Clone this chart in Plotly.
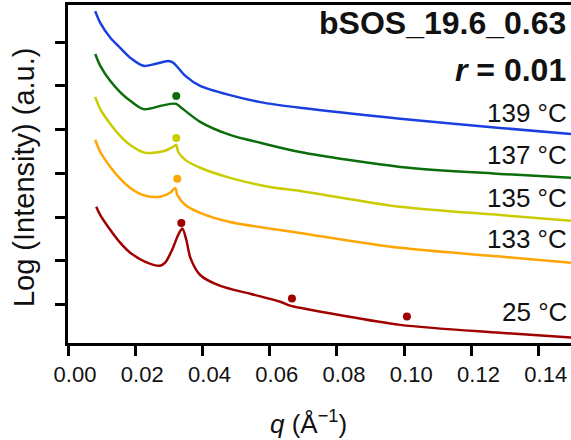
import plotly.graph_objects as go

# ---- data (q in 1/Å, log intensity in arbitrary offset units) ----
q_139 = [0.0081, 0.0096, 0.0126, 0.0155, 0.0189, 0.0224, 0.0259, 0.0298, 0.0313, 0.0349, 0.0393, 0.0482, 0.0572, 0.0690, 0.0988, 0.1285, 0.1496]
i_139 = [7.71, 7.44, 7.10, 6.87, 6.62, 6.46, 6.50, 6.57, 6.53, 6.23, 6.00, 5.79, 5.63, 5.50, 5.25, 5.04, 4.90]

q_137 = [0.0081, 0.0096, 0.0126, 0.0155, 0.0185, 0.0224, 0.0274, 0.0304, 0.0322, 0.0334, 0.0393, 0.0482, 0.0572, 0.0690, 0.0988, 0.1285, 0.1496]
i_137 = [6.73, 6.46, 6.11, 5.86, 5.66, 5.47, 5.54, 5.59, 5.59, 5.52, 5.18, 4.88, 4.70, 4.49, 4.15, 3.99, 3.90]

q_135 = [0.0081, 0.0096, 0.0126, 0.0155, 0.0185, 0.0230, 0.0289, 0.0313, 0.0322, 0.0328, 0.0349, 0.0393, 0.0482, 0.0601, 0.0690, 0.0988, 0.1285, 0.1496]
i_135 = [5.75, 5.47, 5.13, 4.86, 4.65, 4.47, 4.52, 4.61, 4.65, 4.49, 4.31, 4.13, 3.90, 3.69, 3.60, 3.24, 3.05, 2.92]

q_133 = [0.0081, 0.0096, 0.0126, 0.0155, 0.0185, 0.0230, 0.0274, 0.0304, 0.0319, 0.0325, 0.0349, 0.0393, 0.0482, 0.0690, 0.0988, 0.1285, 0.1496]
i_133 = [4.77, 4.49, 4.15, 3.88, 3.67, 3.49, 3.47, 3.56, 3.67, 3.51, 3.28, 3.10, 2.89, 2.64, 2.30, 2.10, 1.96]

q_25 = [0.0084, 0.0096, 0.0126, 0.0155, 0.0185, 0.0230, 0.0274, 0.0289, 0.0310, 0.0328, 0.0340, 0.0352, 0.0364, 0.0393, 0.0453, 0.0542, 0.0631, 0.0661, 0.0690, 0.0988, 0.1285, 0.1496]
i_25 = [3.24, 3.05, 2.71, 2.42, 2.19, 1.98, 1.89, 1.96, 2.26, 2.60, 2.74, 2.48, 2.07, 1.68, 1.43, 1.25, 1.07, 0.98, 0.93, 0.54, 0.36, 0.25]

# peak markers
peak_q_139 = []
peak_i_139 = []
peak_q_137 = [0.0322]
peak_i_137 = [5.77]
peak_q_135 = [0.0322]
peak_i_135 = [4.81]
peak_q_133 = [0.0325]
peak_i_133 = [3.88]
peak_q_25 = [0.0337, 0.0666, 0.1008]
peak_i_25 = [2.87, 1.14, 0.73]

temps = ["139 °C", "137 °C", "135 °C", "133 °C", "25 °C"]
colors = ["#1A3FDF", "#0B6E0B", "#CACC00", "#FFA500", "#A00000"]
label_y = [5.38, 4.42, 3.44, 2.51, 0.84]

x_ticks = [0.00, 0.02, 0.04, 0.06, 0.08, 0.10, 0.12, 0.14]
x_tick_text = ["0.00", "0.02", "0.04", "0.06", "0.08", "0.10", "0.12", "0.14"]
y_ticks = [1, 2, 3, 4, 5, 6, 7]

series = [
    (q_139, i_139, peak_q_139, peak_i_139),
    (q_137, i_137, peak_q_137, peak_i_137),
    (q_135, i_135, peak_q_135, peak_i_135),
    (q_133, i_133, peak_q_133, peak_i_133),
    (q_25, i_25, peak_q_25, peak_i_25),
]

FONT = "Arial, 'Liberation Sans', Helvetica, sans-serif"

fig = go.Figure()
for (qq, ii, pq, pi), col, name in zip(series, colors, temps):
    fig.add_trace(go.Scatter(x=qq, y=ii, mode="lines",
                             line=dict(color=col, width=2.5, shape="spline", smoothing=0.8),
                             name=name, showlegend=False, hoverinfo="skip"))
    if pq:
        fig.add_trace(go.Scatter(x=pq, y=pi, mode="markers",
                                 marker=dict(color=col, size=8),
                                 showlegend=False, hoverinfo="skip"))

annotations = []
for t, ly in zip(temps, label_y):
    annotations.append(dict(x=0.1491, y=ly, xref="x", yref="y", text=t,
                            xanchor="right", yanchor="middle", showarrow=False,
                            font=dict(family=FONT, size=26, color="#111111")))
annotations.append(dict(x=0.1488, y=7.43, xref="x", yref="y", text="<b>bSOS_19.6_0.63</b>",
                        xanchor="right", yanchor="middle", showarrow=False,
                        font=dict(family=FONT, size=32, color="#111111")))
annotations.append(dict(x=0.1488, y=6.37, xref="x", yref="y", text="<b><i>r</i> = 0.01</b>",
                        xanchor="right", yanchor="middle", showarrow=False,
                        font=dict(family=FONT, size=32, color="#111111")))
# axis titles
annotations.append(dict(x=-44 / 503.3, y=0.491, xref="paper", yref="paper",
                        text="Log (Intensity) (a.u.)",
                        textangle=-90, showarrow=False, xanchor="center", yanchor="middle",
                        font=dict(family=FONT, size=29, color="#111111")))
annotations.append(dict(x=(308 - 67.7) / 503.3, y=-80 / 338, xref="paper", yref="paper",
                        text="<i>q</i> (Å<sup>−1</sup>)", showarrow=False,
                        xanchor="center", yanchor="middle",
                        font=dict(family=FONT, size=26, color="#111111")))

fig.update_layout(
    width=571, height=440,
    margin=dict(l=68, r=0, t=5, b=97),
    paper_bgcolor="white", plot_bgcolor="white",
    font=dict(family=FONT, color="#111111"),
    annotations=annotations,
)
fig.update_xaxes(range=[0, 0.1496], tickvals=x_ticks, ticktext=x_tick_text,
                 showgrid=False, zeroline=False,
                 showline=True, linecolor="black", linewidth=3, mirror=True,
                 ticks="outside", ticklen=10, tickwidth=3, tickcolor="black",
                 ticklabelshift=7,
                 tickfont=dict(family=FONT, size=22, color="#111111"))
fig.update_yaxes(range=[0.126, 7.849], tickvals=y_ticks, showticklabels=False,
                 showgrid=False, zeroline=False,
                 showline=True, linecolor="black", linewidth=3,
                 ticks="outside", ticklen=10, tickwidth=3, tickcolor="black")

fig.write_html("out.html")
